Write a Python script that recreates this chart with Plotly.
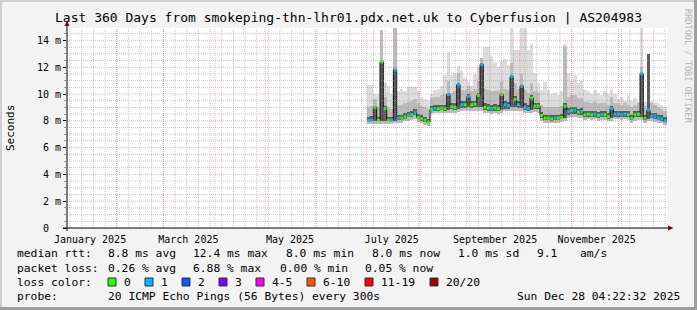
import plotly.graph_objects as go
import pandas as pd

# ---------------- data ----------------
TITLE = "Last 360 Days from smokeping-thn-lhr01.pdx.net.uk to Cyberfusion | AS204983"
range_start = "2025-01-02 04:22:32"
range_end = "2025-12-28 04:22:32"

# one sample every 2 days, 2025-07-02 .. 2025-12-27
dates = pd.date_range("2025-07-02", periods=90, freq="2D")

median = [8.05, 8.05, 9.0, 8.05, 12.4, 8.9, 8.05, 8.05, 11.8, 8.2,
          8.2, 8.3, 8.4, 8.45, 8.6, 8.25, 8.15, 8.05, 7.9, 8.85,
          8.9, 8.9, 8.95, 8.9, 9.95, 9.05, 9.0, 10.7, 9.2, 9.2,
          9.8, 9.2, 9.25, 9.9, 12.2, 9.0, 8.95, 8.9, 8.95, 8.9,
          9.95, 9.2, 9.15, 11.3, 9.6, 9.2, 10.6, 9.0, 8.9, 9.7,
          9.1, 9.1, 8.4, 8.2, 8.2, 8.15, 8.2, 8.2, 8.25, 9.1,
          8.7, 8.75, 8.8, 8.65, 8.7, 8.45, 8.5, 8.45, 8.5, 8.4,
          8.45, 8.45, 8.3, 8.9, 8.5, 8.5, 8.45, 8.5, 8.45, 8.2,
          8.45, 8.5, 11.5, 8.2, 8.8, 8.35, 8.3, 8.2, 8.15, 8.0]

loss = [1, 1, 0, 0, 0, 0, 0, 1, 1, 1,
        0, 0, 1, 0, 1, 0, 0, 0, 0, 0,
        1, 0, 0, 0, 1, 0, 0, 1, 1, 0,
        1, 0, 0, 0, 1, 0, 0, 1, 0, 0,
        0, 1, 1, 1, 0, 1, 1, 1, 1, 0,
        0, 0, 0, 0, 0, 0, 1, 0, 0, 0,
        1, 0, 1, 0, 1, 0, 0, 0, 1, 0,
        1, 0, 0, 1, 1, 1, 1, 1, 0, 0,
        0, 0, 1, 0, 1, 1, 1, 1, 1, 1]

rtt_min = [7.75, 7.75, 7.75, 7.75, 7.75, 7.75, 7.75, 7.75, 7.8, 7.85,
           7.85, 7.95, 8.0, 8.05, 8.1, 7.9, 7.8, 7.7, 7.6, 8.5,
           8.55, 8.55, 8.6, 8.55, 8.6, 8.6, 8.6, 8.65, 8.7, 8.7,
           8.7, 8.7, 8.75, 8.75, 8.75, 8.6, 8.55, 8.5, 8.55, 8.5,
           8.6, 8.7, 8.7, 8.75, 8.75, 8.7, 8.7, 8.6, 8.55, 8.6,
           8.65, 8.6, 8.0, 7.85, 7.85, 7.8, 7.85, 7.85, 7.9, 8.0,
           8.2, 8.25, 8.25, 8.2, 8.2, 8.05, 8.1, 8.05, 8.1, 8.0,
           8.05, 8.05, 7.95, 8.0, 8.1, 8.1, 8.05, 8.1, 8.05, 7.85,
           8.0, 8.05, 8.05, 7.85, 7.95, 7.95, 7.9, 7.85, 7.8, 7.7]

rtt_p25 = [7.95, 7.95, 7.95, 7.95, 8.0, 7.95, 7.95, 7.95, 8.0, 8.05,
           8.05, 8.15, 8.25, 8.3, 8.4, 8.1, 8.0, 7.9, 7.8, 8.7,
           8.75, 8.75, 8.8, 8.75, 8.8, 8.85, 8.8, 8.9, 8.95, 8.95,
           9.0, 8.95, 9.0, 9.0, 9.0, 8.8, 8.75, 8.7, 8.75, 8.7,
           8.8, 8.9, 8.9, 9.0, 9.0, 8.95, 8.95, 8.8, 8.75, 8.8,
           8.85, 8.85, 8.2, 8.05, 8.05, 8.0, 8.05, 8.05, 8.1, 8.2,
           8.45, 8.5, 8.5, 8.4, 8.45, 8.25, 8.3, 8.25, 8.3, 8.2,
           8.25, 8.25, 8.15, 8.2, 8.3, 8.3, 8.25, 8.3, 8.25, 8.05,
           8.25, 8.3, 8.3, 8.05, 8.15, 8.2, 8.15, 8.05, 8.0, 7.9]

rtt_p75 = [8.3, 8.35, 9.1, 8.3, 12.5, 9.1, 8.3, 8.3, 11.9, 8.45,
           8.45, 8.55, 8.65, 8.7, 8.85, 8.5, 8.4, 8.3, 8.15, 9.1,
           9.15, 9.15, 9.2, 9.15, 10.1, 9.3, 9.3, 10.8, 9.45, 9.45,
           10.0, 9.45, 9.5, 10.1, 12.3, 9.3, 9.25, 9.2, 9.25, 9.2,
           10.1, 9.45, 9.4, 11.4, 9.85, 9.45, 10.7, 9.3, 9.2, 9.9,
           9.35, 9.35, 8.65, 8.45, 8.45, 8.4, 8.45, 8.45, 8.5, 9.3,
           8.95, 9.0, 9.05, 8.9, 8.95, 8.7, 8.75, 8.7, 8.75, 8.65,
           8.7, 8.7, 8.55, 9.1, 8.75, 8.75, 8.7, 8.75, 8.7, 8.45,
           8.7, 8.75, 11.6, 8.45, 13.0, 8.6, 8.55, 8.45, 8.4, 8.25]

rtt_p90 = [9.0, 9.1, 9.6, 9.0, 14.8, 9.8, 9.0, 8.9, 15.0, 9.2,
           9.2, 9.3, 9.4, 9.5, 9.6, 9.3, 9.1, 9.0, 8.9, 9.7,
           9.8, 9.8, 9.9, 10.0, 11.0, 10.1, 10.2, 11.6, 10.3, 10.3,
           10.6, 10.2, 10.4, 11.0, 12.7, 10.4, 10.3, 10.2, 10.2, 10.3,
           11.0, 10.4, 10.3, 12.3, 10.8, 10.4, 11.5, 10.3, 10.1, 10.8,
           10.2, 10.1, 9.2, 9.0, 9.0, 9.0, 9.0, 9.0, 9.1, 13.5,
           9.8, 9.9, 9.9, 9.7, 9.7, 9.4, 9.4, 9.3, 9.4, 9.3,
           9.3, 9.3, 9.2, 9.8, 9.3, 9.3, 9.2, 9.3, 9.2, 9.0,
           9.2, 9.3, 12.0, 9.1, 13.0, 9.3, 9.2, 9.0, 8.9, 8.7]

rtt_max = [10.7, 10.7, 10.0, 10.0, 14.8, 10.8, 10.6, 10.0, 15.0, 10.2,
           10.4, 10.2, 10.5, 10.5, 10.5, 10.2, 9.8, 9.6, 9.5, 10.0,
           10.3, 10.4, 10.6, 11.4, 13.1, 11.4, 11.6, 12.1, 11.7, 11.2,
           10.9, 10.6, 11.5, 12.0, 12.7, 13.5, 13.5, 12.8, 12.4, 12.0,
           12.5, 12.6, 12.2, 15.0, 13.3, 13.3, 15.0, 15.0, 13.3, 13.7,
           11.6, 10.8, 10.3, 10.9, 10.3, 10.0, 10.1, 9.9, 10.2, 13.7,
           11.6, 11.0, 11.4, 10.8, 11.0, 10.3, 10.2, 10.0, 10.3, 10.1,
           9.9, 10.2, 10.0, 10.4, 10.0, 9.6, 9.8, 9.5, 9.9, 9.5,
           9.7, 9.4, 15.0, 9.4, 13.0, 9.5, 9.4, 9.3, 9.2, 9.0]

y_tick_vals = [0, 2, 4, 6, 8, 10, 12, 14]
y_tick_text = ["0\u00a0\u00a0", "2 m", "4 m", "6 m", "8 m", "10 m", "12 m", "14 m"]
y_max = 14.925

month_label_dates = ["2025-01-16", "2025-03-16", "2025-05-16",
                     "2025-07-16", "2025-09-16", "2025-11-16"]
month_label_text = ["January 2025", "March 2025", "May 2025",
                    "July 2025", "September 2025", "November 2025"]

loss_palette = ["#26ff00", "#00b8ff", "#0059ff", "#7e00ff",
                "#ff00ff", "#ff5500", "#ff0000", "#a10000"]
loss_labels = ["0", "1", "2", "3", "4-5", "6-10", "11-19", "20/20"]

stats_rtt = [("median rtt:", 16), ("8.8 ms avg", 107), ("12.4 ms max", 192),
             ("8.0 ms min", 285), ("8.0 ms now", 371), ("1.0 ms sd", 457),
             ("9.1", 536), ("am/s", 579)]
stats_loss = [("packet loss:", 16), ("0.26 % avg", 107), ("6.88 % max", 192),
              ("0.00 % min", 279), ("0.05 % now", 364)]
probe_text = "20 ICMP Echo Pings (56 Bytes) every 300s"
stamp_text = "Sun Dec 28 04:22:32 2025"

# ---------------- layout helpers ----------------
W, H = 697, 310
L, R, T, B = 67, 30, 28, 82
PW, PH = W - L - R, H - T - B
MONO = "DejaVu Sans Mono"


def px(x):
    return (x - L) / PW


def py(y):
    return (T + PH - y) / PH


DAY_MS = 86400000
bar_w = 2 * DAY_MS

fig = go.Figure()


def band(lo, hi, color):
    fig.add_trace(go.Bar(
        x=dates, base=lo, y=[h - l for h, l in zip(hi, lo)],
        width=bar_w, marker=dict(color=color, line=dict(width=0)),
        hoverinfo="skip", showlegend=False))


band(rtt_min, rtt_max, "#dddddd")
band(rtt_min, rtt_p90, "#bcbcbc")
band(rtt_p25, rtt_p75, "#5a5a5a")

fig.add_trace(go.Scatter(
    x=dates, y=median, mode="lines", line=dict(color="#111111", width=1, shape="hvh"),
    hoverinfo="skip", showlegend=False))
fig.add_trace(go.Scatter(
    x=dates, y=median, mode="markers",
    marker=dict(symbol="square", size=3, color=[loss_palette[v] for v in loss],
                line=dict(width=0)),
    hoverinfo="skip", showlegend=False))

shapes = []
# grid (drawn above the data like rrdtool)
week_lines = pd.date_range("2025-01-04", "2025-12-28", freq="7D")
month_lines = pd.date_range("2025-02-01", "2025-12-01", freq="MS")
minor_col = "rgba(150,150,150,0.55)"
major_col = "rgba(255,80,80,0.45)"
for d in week_lines:
    shapes.append(dict(type="line", xref="x", yref="paper", x0=d, x1=d, y0=0, y1=1,
                       line=dict(color=minor_col, width=1, dash="1px,1px"), layer="above"))
for d in month_lines:
    shapes.append(dict(type="line", xref="x", yref="paper", x0=d, x1=d, y0=0, y1=1,
                       line=dict(color=major_col, width=1, dash="1px,1px"), layer="above"))
k = 1
while k * 0.5 < y_max:
    v = k * 0.5
    col = major_col if v % 2 == 0 else minor_col
    shapes.append(dict(type="line", xref="paper", yref="y", x0=0, x1=1, y0=v, y1=v,
                       line=dict(color=col, width=1, dash="1px,1px"), layer="above"))
    k += 1

# axes lines + arrows
shapes.append(dict(type="line", xref="paper", yref="paper", x0=px(63), x1=px(669),
                   y0=py(228), y1=py(228), line=dict(color="#000000", width=1)))
shapes.append(dict(type="line", xref="paper", yref="paper", x0=px(67), x1=px(67),
                   y0=py(231), y1=py(25), line=dict(color="#000000", width=1)))
shapes.append(dict(type="path", xref="paper", yref="paper",
                   path=f"M {px(668)} {py(225.5)} L {px(673.5)} {py(228)} L {px(668)} {py(230.5)} Z",
                   fillcolor="#8b0000", line=dict(width=0)))
shapes.append(dict(type="path", xref="paper", yref="paper",
                   path=f"M {px(64.5)} {py(26)} L {px(67)} {py(20.5)} L {px(69.5)} {py(26)} Z",
                   fillcolor="#8b0000", line=dict(width=0)))

# frame
shapes.append(dict(type="rect", xref="paper", yref="paper", x0=px(0), x1=px(W), y0=py(0), y1=py(2),
                   fillcolor="#cfcfcf", line=dict(width=0), layer="below"))
shapes.append(dict(type="rect", xref="paper", yref="paper", x0=px(0), x1=px(2), y0=py(0), y1=py(H),
                   fillcolor="#cfcfcf", line=dict(width=0), layer="below"))
shapes.append(dict(type="rect", xref="paper", yref="paper", x0=px(W - 3), x1=px(W), y0=py(0), y1=py(H),
                   fillcolor="#9e9e9e", line=dict(width=0)))
shapes.append(dict(type="rect", xref="paper", yref="paper", x0=px(0), x1=px(W), y0=py(H - 3), y1=py(H),
                   fillcolor="#9e9e9e", line=dict(width=0)))

# loss colour boxes
box_x = [108, 145, 182, 219, 256, 307, 365, 430]
for bx, col in zip(box_x, loss_palette):
    shapes.append(dict(type="rect", xref="paper", yref="paper", x0=px(bx), x1=px(bx + 8),
                       y0=py(286), y1=py(278), fillcolor=col,
                       line=dict(color="#333333", width=1)))

ann = []


def text(s, x, y, size=11.3, anchor="left", color="#000000", angle=0, yanchor="middle"):
    ann.append(dict(text=s, x=px(x), y=py(y), xref="paper", yref="paper",
                    xanchor=anchor, yanchor=yanchor, showarrow=False, textangle=angle,
                    borderpad=0, font=dict(family=MONO, size=size, color=color)))


text(TITLE, 348, 18, size=13, anchor="center")
text("Seconds", 10, 128, size=11, anchor="center", angle=-90)
text("RRDTOOL / TOBI OETIKER", 688, 66, size=8.6, anchor="center", angle=90, color="#b4b4b4")
for s, x in stats_rtt:
    text(s, x, 254)
for s, x in stats_loss:
    text(s, x, 268)
text("loss color:", 16, 282)
for bx, lab in zip(box_x, loss_labels):
    text(lab, bx + 15, 282)
text("probe:", 16, 296)
text(probe_text, 107, 296)
text(stamp_text, 681, 296, anchor="right")

fig.update_layout(
    width=W, height=H, margin=dict(l=L, r=R, t=T, b=B, pad=0),
    paper_bgcolor="#f3f3f3", plot_bgcolor="#ffffff",
    barmode="overlay", bargap=0, showlegend=False,
    font=dict(family=MONO, color="#000000"),
    shapes=shapes, annotations=ann,
    xaxis=dict(type="date", range=[range_start, range_end], showgrid=False, zeroline=False,
               showline=False, tickmode="array", tickvals=month_label_dates,
               ticktext=month_label_text, ticks="outside", ticklen=2,
               tickcolor="rgba(0,0,0,0)", tickfont=dict(family=MONO, size=10),
               fixedrange=True),
    yaxis=dict(range=[0, y_max], showgrid=False, zeroline=False, showline=False,
               tickmode="array", tickvals=y_tick_vals, ticktext=y_tick_text,
               ticks="outside", ticklen=3, tickcolor="#000000", tickwidth=1,
               minor=dict(tickvals=[v * 0.5 for v in range(1, 30)], ticks="outside",
                          ticklen=2, tickcolor="#999999", showgrid=False),
               tickfont=dict(family=MONO, size=10), fixedrange=True),
)

fig.write_html("out.html")
